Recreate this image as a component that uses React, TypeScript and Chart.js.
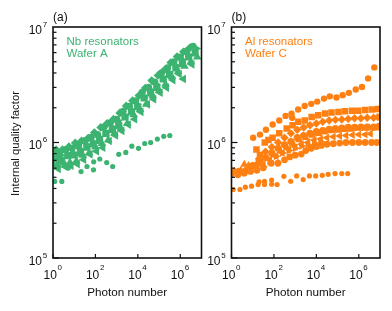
import React, { useEffect, useRef } from 'react';
import { Chart, registerables } from 'chart.js';
Chart.register(...registerables);

const GREEN = '#3cb371';
const ORANGE = '#ff8012';
const FONT = "'Liberation Sans', Arial, Helvetica, sans-serif";

// ---------- axis ticks ----------
const xMajorTicks = [1, 1e2, 1e4, 1e6];
const yMajorTicks = [1e5, 1e6, 1e7];
const xLabel = 'Photon number';
const yLabel = 'Internal quality factor';

// ---------- Panel (a): Nb resonators, Wafer A ----------
const aCircleN = [1, 2, 4, 7.9, 16, 32, 63, 126, 251, 500, 1000, 2000, 4000, 7900, 1.6e4, 3.2e4, 6.3e4, 1.26e5, 2.5e5, 5e5, 1e6, 2e6, 4e6];
const aCircleQ = [8.3e5, 7.9e5, 8.7e5, 8.9e5, 9.3e5, 1.04e6, 1.11e6, 1.17e6, 1.36e6, 1.48e6, 1.59e6, 1.86e6, 2.06e6, 2.29e6, 2.72e6, 3.01e6, 3.34e6, 3.98e6, 4.42e6, 5.0e6, 5.48e6, 6.2e6, 6.8e6];
const aSquareN = [1.26, 2.5, 5, 10, 20, 40, 79, 158, 316, 631, 1260, 2510, 5000, 1e4, 2e4, 4e4, 7.9e4, 1.58e5, 3.16e5, 6.3e5, 1.26e6, 2.5e6, 5e6];
const aSquareQ = [7.2e5, 7.0e5, 7.7e5, 7.8e5, 8.1e5, 9.1e5, 9.7e5, 1.04e6, 1.2e6, 1.3e6, 1.4e6, 1.66e6, 1.84e6, 2.04e6, 2.43e6, 2.69e6, 2.99e6, 3.55e6, 3.89e6, 4.42e6, 4.84e6, 5.5e6, 5.96e6];
const aTriUpN = [1.58, 3.16, 6.3, 12.6, 25, 50, 100, 200, 400, 790, 1580, 3160, 6300, 1.26e4, 2.5e4, 5e4, 1e5, 2e5, 4e5, 7.9e5, 1.58e6, 3.16e6, 6.3e6];
const aTriUpQ = [6.35e5, 6.7e5, 6.7e5, 6.9e5, 7.75e5, 8.1e5, 9.15e5, 9.8e5, 1.05e6, 1.21e6, 1.32e6, 1.46e6, 1.74e6, 1.93e6, 2.14e6, 2.54e6, 2.82e6, 3.2e6, 3.71e6, 4.12e6, 4.57e6, 5.01e6, 5.5e6];
const aDiamondN = [1.41, 2.8, 5.6, 11.2, 22, 45, 89, 178, 355, 710, 1410, 2820, 5600, 1.12e4, 2.24e4, 4.5e4, 8.9e4, 1.78e5, 3.55e5, 7.1e5, 1.41e6, 2.82e6];
const aDiamondQ = [8.65e5, 8.65e5, 9.2e5, 9.9e5, 1.03e6, 1.09e6, 1.22e6, 1.35e6, 1.46e6, 1.59e6, 1.8e6, 2.07e6, 2.3e6, 2.55e6, 2.96e6, 3.44e6, 3.81e6, 4.24e6, 4.92e6, 5.55e6, 6.1e6, 6.6e6];
const aTriLeftN = [1, 1.78, 3.55, 7.1, 14, 28, 56, 112, 224, 447, 890, 1780, 3550, 7100, 1.41e4, 2.82e4, 5.6e4, 1.12e5, 2.24e5, 4.5e5, 8.9e5, 1.41e6, 3.55e6];
const aTriLeftQ = [6.6e5, 5.9e5, 6.2e5, 6.3e5, 6.5e5, 7.1e5, 7.9e5, 8.4e5, 9.0e5, 1.03e6, 1.15e6, 1.26e6, 1.43e6, 1.59e6, 1.84e6, 2.14e6, 2.37e6, 2.7e6, 2.99e6, 3.47e6, 3.91e6, 3.55e6, 4.74e6];
const aTriRightN = [1.12, 2.24, 4.5, 8.9, 17.8, 35.5, 71, 141, 282, 562, 1120, 2240, 4470, 8900, 1.78e4, 3.55e4, 7.1e4, 1.41e5, 2.82e5, 5.6e5, 1.12e6, 2.24e6, 5.6e6];
const aTriRightQ = [7.45e5, 7.76e5, 7.87e5, 8.07e5, 8.8e5, 9.63e5, 1.02e6, 1.12e6, 1.21e6, 1.37e6, 1.54e6, 1.7e6, 1.93e6, 2.13e6, 2.48e6, 2.88e6, 3.19e6, 3.62e6, 4.02e6, 4.66e6, 5.23e6, 5.75e6, 6.5e6];
const aLowN = [1.2, 2.6, 5.2, 21, 40, 81, 83, 160, 340, 650, 1260, 2700, 5200, 1.07e4, 2.1e4, 4e4, 8.3e4, 1.66e5, 3.2e5];
const aLowQ = [4.6e5, 4.6e5, 6.0e5, 5.6e5, 6.2e5, 5.8e5, 6.8e5, 7.2e5, 6.7e5, 6.2e5, 7.9e5, 8.2e5, 9.3e5, 8.9e5, 9.8e5, 1.0e6, 1.07e6, 1.13e6, 1.15e6];

// ---------- Panel (b): Al resonators, Wafer C ----------
const bTopN = [10.5, 22, 42, 87, 178, 355, 676, 724, 1380, 2820, 5750, 1.1e4, 2.3e4, 4.3e4, 8.9e4, 1.74e5, 3.4e5, 7.2e5, 1.41e6, 2.75e6, 5.4e6];
const bTopQ = [1.1e6, 1.17e6, 1.29e6, 1.43e6, 1.55e6, 1.7e6, 1.78e6, 1.64e6, 1.93e6, 2.07e6, 2.16e6, 2.26e6, 2.4e6, 2.51e6, 2.45e6, 2.57e6, 2.69e6, 2.88e6, 3.02e6, 3.59e6, 4.47e6];
const bSquareN = [15, 22, 23, 37, 55, 87, 178, 400, 760, 1410, 2880, 6000, 1.23e4, 2.6e4, 5.2e4, 1.1e5, 2.2e5, 4.7e5, 9.5e5, 2.0e6, 4.1e6, 8.1e6];
const bSquareQ = [8.7e5, 7.8e5, 6.8e5, 1.0e6, 1.05e6, 1.1e6, 1.2e6, 1.32e6, 1.41e6, 1.51e6, 1.55e6, 1.66e6, 1.72e6, 1.78e6, 1.82e6, 1.84e6, 1.86e6, 1.88e6, 1.88e6, 1.91e6, 1.93e6, 1.95e6];
const bDiamondN = [20, 40, 79, 158, 316, 631, 1260, 2510, 5000, 1e4, 2e4, 4e4, 7.9e4, 1.58e5, 3.16e5, 6.3e5, 1.26e6, 2.5e6, 5e6, 7.9e6];
const bDiamondQ = [7.24e5, 8.32e5, 9.12e5, 1.0e6, 1.1e6, 1.2e6, 1.29e6, 1.35e6, 1.41e6, 1.46e6, 1.51e6, 1.55e6, 1.57e6, 1.58e6, 1.6e6, 1.62e6, 1.62e6, 1.64e6, 1.64e6, 1.66e6];
const bHexN = [1, 2.24, 5, 10, 20, 40, 79, 158, 316, 631, 1260, 2510, 5000, 1e4, 2e4, 4e4, 7.9e4, 1.58e5, 3.16e5, 6.3e5, 1.26e6, 2.5e6, 5e6, 8.9e6];
const bHexQ = [5.5e5, 5.62e5, 5.75e5, 6.31e5, 6.92e5, 7.41e5, 8.13e5, 8.91e5, 9.55e5, 1.02e6, 1.1e6, 1.15e6, 1.2e6, 1.24e6, 1.27e6, 1.3e6, 1.32e6, 1.33e6, 1.35e6, 1.35e6, 1.36e6, 1.36e6, 1.36e6, 1.38e6];
const bTriLeftN = [1, 2, 4, 7.9, 15.8, 31.6, 63, 126, 251, 501, 1000, 2000, 3980, 7940, 1.58e4, 3.16e4, 6.3e4, 1.26e5, 2.5e5, 5e5, 1e6, 2e6, 3.55e6];
const bTriLeftQ = [5.56e5, 5.5e5, 5.62e5, 5.75e5, 6.03e5, 6.46e5, 7.08e5, 7.59e5, 8.13e5, 8.71e5, 9.12e5, 9.66e5, 1.0e6, 1.05e6, 1.07e6, 1.1e6, 1.12e6, 1.14e6, 1.15e6, 1.16e6, 1.17e6, 1.17e6, 1.19e6];
const bBottomN = [1, 2, 4, 7.9, 15.8, 31.6, 74, 155, 316, 550, 1000, 1950, 3160, 5750, 1e4, 1.7e4, 3.16e4, 6.3e4, 1.26e5, 2.5e5, 5e5, 1e6, 2e6, 4e6, 7.1e6];
const bBottomQ = [5.37e5, 5.25e5, 5.43e5, 5.62e5, 5.75e5, 6.03e5, 6.61e5, 6.61e5, 7.08e5, 7.5e5, 7.76e5, 7.94e5, 8.51e5, 8.91e5, 9.23e5, 9.44e5, 9.66e5, 9.77e5, 9.89e5, 1.0e6, 1.0e6, 1.0e6, 1.0e6, 1.0e6, 1.0e6];
const bTriUpN = [1.41, 2.8, 4, 6.3, 12.6, 25, 50, 100, 200, 400, 794, 1580, 3160, 6300, 1.26e4, 2.5e4, 5e4, 1e5, 2e5, 4e5, 7.9e5, 1.58e6, 3.16e6, 6.3e6];
const bTriUpQ = [5.62e5, 5.75e5, 6.46e5, 6.31e5, 6.17e5, 6.76e5, 7.24e5, 7.76e5, 8.51e5, 9.12e5, 9.77e5, 1.05e6, 1.1e6, 1.15e6, 1.19e6, 1.23e6, 1.26e6, 1.27e6, 1.29e6, 1.3e6, 1.32e6, 1.32e6, 1.33e6, 1.33e6];
const bTriRightN = [15.8, 31.6, 63, 126, 251, 501, 1000, 2000, 3980, 7940, 1.58e4];
const bTriRightQ = [6.31e5, 6.17e5, 6.92e5, 7.59e5, 8.13e5, 8.51e5, 8.91e5, 9.33e5, 9.55e5, 9.89e5, 1.02e6];
const bLowN = [1.2, 2.5, 4.5, 8.8, 18, 20, 36, 36, 78, 78, 141, 295, 617, 1180, 2400, 4700, 9300, 1.9e4, 3.6e4, 7.6e4, 1.58e5, 3.0e5];
const bLowQ = [3.92e5, 3.92e5, 4.1e5, 4.19e5, 4.32e5, 4.57e5, 4.33e5, 4.62e5, 4.35e5, 4.72e5, 4.33e5, 5.1e5, 4.62e5, 5.14e5, 4.78e5, 5.14e5, 5.14e5, 5.2e5, 5.3e5, 5.38e5, 5.38e5, 5.38e5];

const pts = (n: number[], q: number[]) => n.map((x, i) => ({ x, y: q[i] }));

const ds = (n: number[], q: number[], color: string, style: string, radius: number, rotation = 0) => ({
  data: pts(n, q),
  pointStyle: style,
  pointRadius: radius,
  pointRotation: rotation,
  pointBackgroundColor: color,
  pointBorderWidth: 0,
  pointBorderColor: color,
  showLine: false,
});

const panelA = [
  ds(aLowN, aLowQ, GREEN, 'circle', 2.6),
  ds(aTriLeftN, aTriLeftQ, GREEN, 'triangle', 5, -90),
  ds(aTriRightN, aTriRightQ, GREEN, 'triangle', 5, 90),
  ds(aDiamondN, aDiamondQ, GREEN, 'rectRot', 4.4),
  ds(aSquareN, aSquareQ, GREEN, 'rect', 5),
  ds(aTriUpN, aTriUpQ, GREEN, 'triangle', 5),
  ds(aCircleN, aCircleQ, GREEN, 'circle', 3.6),
];

const panelB = [
  ds(bLowN, bLowQ, ORANGE, 'circle', 2.6),
  ds(bBottomN, bBottomQ, ORANGE, 'circle', 3.4),
  ds(bTriRightN, bTriRightQ, ORANGE, 'triangle', 4.6, 90),
  ds(bTriLeftN, bTriLeftQ, ORANGE, 'triangle', 4.6, -90),
  ds(bTriUpN, bTriUpQ, ORANGE, 'triangle', 4.6),
  ds(bHexN, bHexQ, ORANGE, 'circle', 3.6),
  ds(bDiamondN, bDiamondQ, ORANGE, 'rectRot', 4.2),
  ds(bSquareN, bSquareQ, ORANGE, 'rect', 4.6),
  ds(bTopN, bTopQ, ORANGE, 'circle', 3.2),
];

type PanelCfg = {
  letter: string;
  lines: string[];
  color: string;
  showYTitle: boolean;
};

const frameplugin = (cfg: PanelCfg) => ({
  id: 'frameplugin',
  afterDraw(chart: any) {
    const { ctx, chartArea: ca, scales } = chart;
    const x = scales.x;
    const y = scales.y;
    ctx.save();
    ctx.strokeStyle = '#111';
    ctx.lineWidth = 1.6;
    ctx.strokeRect(ca.left, ca.top, ca.right - ca.left, ca.bottom - ca.top);
    ctx.lineWidth = 1.2;
    for (let e = 5; e < 7; e++) {
      for (let m = 1; m <= 9; m++) {
        const v = m * Math.pow(10, e);
        const py = y.getPixelForValue(v);
        const len = m === 1 ? 6 : 3.5;
        ctx.beginPath();
        ctx.moveTo(ca.left, py);
        ctx.lineTo(ca.left + len, py);
        ctx.stroke();
      }
    }
    xMajorTicks.forEach((v) => {
      const px = x.getPixelForValue(v);
      ctx.beginPath();
      ctx.moveTo(px, ca.bottom);
      ctx.lineTo(px, ca.bottom - 4);
      ctx.stroke();
    });
    ctx.fillStyle = '#111';
    xMajorTicks.forEach((v) => {
      const px = x.getPixelForValue(v);
      const exp = String(Math.round(Math.log10(v)));
      ctx.font = `12px ${FONT}`;
      ctx.textAlign = 'right';
      ctx.textBaseline = 'middle';
      ctx.fillText('10', px + 3.8, ca.bottom + 18);
      ctx.font = `8px ${FONT}`;
      ctx.textAlign = 'left';
      ctx.fillText(exp, px + 4.5, ca.bottom + 9.5);
    });
    yMajorTicks.forEach((v) => {
      const py = y.getPixelForValue(v);
      const exp = String(Math.round(Math.log10(v)));
      ctx.font = `12px ${FONT}`;
      ctx.textAlign = 'right';
      ctx.textBaseline = 'middle';
      ctx.fillText('10', ca.left - 11, py + 3.5);
      ctx.font = `8px ${FONT}`;
      ctx.textAlign = 'left';
      ctx.fillText(exp, ca.left - 10.3, py - 2.5);
    });
    ctx.font = `11.7px ${FONT}`;
    ctx.textAlign = 'center';
    ctx.textBaseline = 'middle';
    ctx.fillText(xLabel, (ca.left + ca.right) / 2, 292.5);
    if (cfg.showYTitle) {
      ctx.save();
      ctx.translate(16, (ca.top + ca.bottom) / 2 + 1);
      ctx.rotate(-Math.PI / 2);
      ctx.font = `11.3px ${FONT}`;
      ctx.textAlign = 'center';
      ctx.textBaseline = 'middle';
      ctx.fillText(yLabel, 0, 0);
      ctx.restore();
    }
    ctx.font = `12px ${FONT}`;
    ctx.textAlign = 'left';
    ctx.textBaseline = 'middle';
    ctx.fillText(cfg.letter, ca.left, 17.5);
    ctx.fillStyle = cfg.color;
    ctx.font = `11.5px ${FONT}`;
    cfg.lines.forEach((t, i) => {
      ctx.fillText(t, ca.left + 13.5, 41.5 + i * 12.5);
    });
    ctx.restore();
  },
});

const makeConfig = (datasets: any[], pad: any, cfg: PanelCfg): any => ({
  type: 'scatter',
  data: { datasets },
  options: {
    animation: false,
    responsive: false,
    events: [],
    layout: { padding: pad },
    plugins: { legend: { display: false }, tooltip: { enabled: false } },
    scales: {
      x: { type: 'logarithmic', min: 1, max: 1e7, display: false },
      y: { type: 'logarithmic', min: 1e5, max: 1e7, display: false },
    },
  },
  plugins: [frameplugin(cfg)],
});

export default function App() {
  const refA = useRef<HTMLCanvasElement | null>(null);
  const refB = useRef<HTMLCanvasElement | null>(null);
  useEffect(() => {
    const W = 392;
    const H = 311;
    const chartA = new Chart(
      refA.current as HTMLCanvasElement,
      makeConfig(panelA, { left: 53, right: W - 201.5, top: 27, bottom: H - 258 }, {
        letter: '(a)',
        lines: ['Nb resonators', 'Wafer A'],
        color: GREEN,
        showYTitle: true,
      })
    );
    const chartB = new Chart(
      refB.current as HTMLCanvasElement,
      makeConfig(panelB, { left: 231.5, right: W - 380, top: 27, bottom: H - 258 }, {
        letter: '(b)',
        lines: ['Al resonators', 'Wafer C'],
        color: ORANGE,
        showYTitle: false,
      })
    );
    return () => {
      chartA.destroy();
      chartB.destroy();
    };
  }, []);
  const st: React.CSSProperties = { position: 'absolute', left: 0, top: 0, width: 392, height: 311 };
  return (
    <div style={{ position: 'absolute', left: 0, top: 0, width: 392, height: 311, background: '#fff' }}>
      <canvas ref={refA} width={392} height={311} style={st} />
      <canvas ref={refB} width={392} height={311} style={st} />
    </div>
  );
}
